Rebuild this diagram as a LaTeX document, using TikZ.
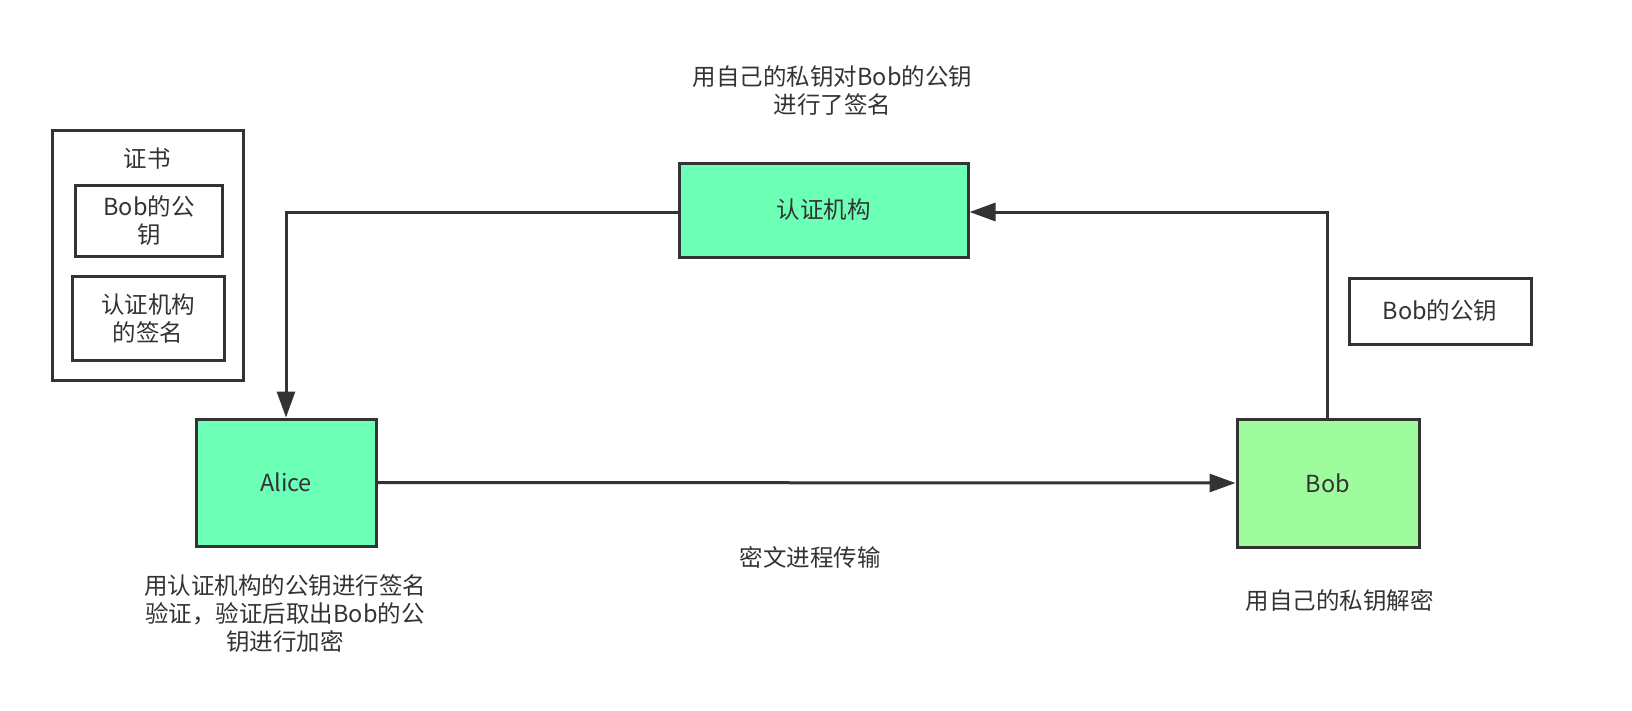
\documentclass[tikz,border=0pt]{standalone}
\usepackage{fontspec}
\setmainfont{Noto Sans CJK SC}
\usetikzlibrary{arrows.meta}

\definecolor{linegray}{HTML}{333333}
\definecolor{cagreen}{HTML}{6CFFB6}
\definecolor{bobgreen}{HTML}{9EFC9E}

\tikzset{
	box/.style={draw=linegray, line width=3pt, inner sep=0pt, align=center,
		text=linegray, font=\fontsize{23.5}{28}\selectfont},
	lbl/.style={inner sep=0pt, align=center, text=linegray,
		font=\fontsize{23.5}{28}\selectfont},
	flow/.style={draw=linegray, line width=3pt,
		-{Triangle[length=26pt,width=18pt]}}
}

\begin{document}
\begin{tikzpicture}[x=1pt,y=-1pt]
	\useasboundingbox (0,0) rectangle (1632,710);

	%certificate, left
	\node[box, minimum width=191pt, minimum height=250pt] (cert) at (147.5,255) {};
		\node[lbl] (certtitle) at (147,159) {证书};
	\node[box, minimum width=147pt, minimum height=71pt] (certkey) at (149,221) {Bob的公\\钥};
	\node[box, minimum width=152pt, minimum height=84pt] (certsig) at (148,318.5) {认证机构\\的签名};

	%parties
	\node[box, fill=cagreen, minimum width=289pt, minimum height=94pt] (ca) at (823.5,210) {认证机构};
	\node[box, fill=cagreen, minimum width=180pt, minimum height=127pt] (alice) at (286,482.5) {Alice};
	\node[box, fill=bobgreen, minimum width=182pt, minimum height=128pt] (bob) at (1328,483) {Bob};
	\node[box, minimum width=182pt, minimum height=66pt] (bobkey) at (1440,311) {Bob的公钥};

	%labels
	\node[lbl] (calbl) at (832.5,90.5) {用自己的私钥对Bob的公钥\\进行了签名};
	\node[lbl] (alicelbl) at (285,614) {用认证机构的公钥进行签名\\验证，验证后取出Bob的公\\钥进行加密};
	\node[lbl] (sendlbl) at (810,557) {密文进程传输};
	\node[lbl] (boblbl) at (1339.5,600.5) {用自己的私钥解密};

	%arrows
	\draw[flow] (ca.west |- 0,212) -| (alice.north -| 286,0);
	\draw[flow] (bob.north -| 1327,0) |- (ca.east |- 0,212);
	\draw[flow] (alice.east) -- (bob.west);
\end{tikzpicture}
\end{document}
